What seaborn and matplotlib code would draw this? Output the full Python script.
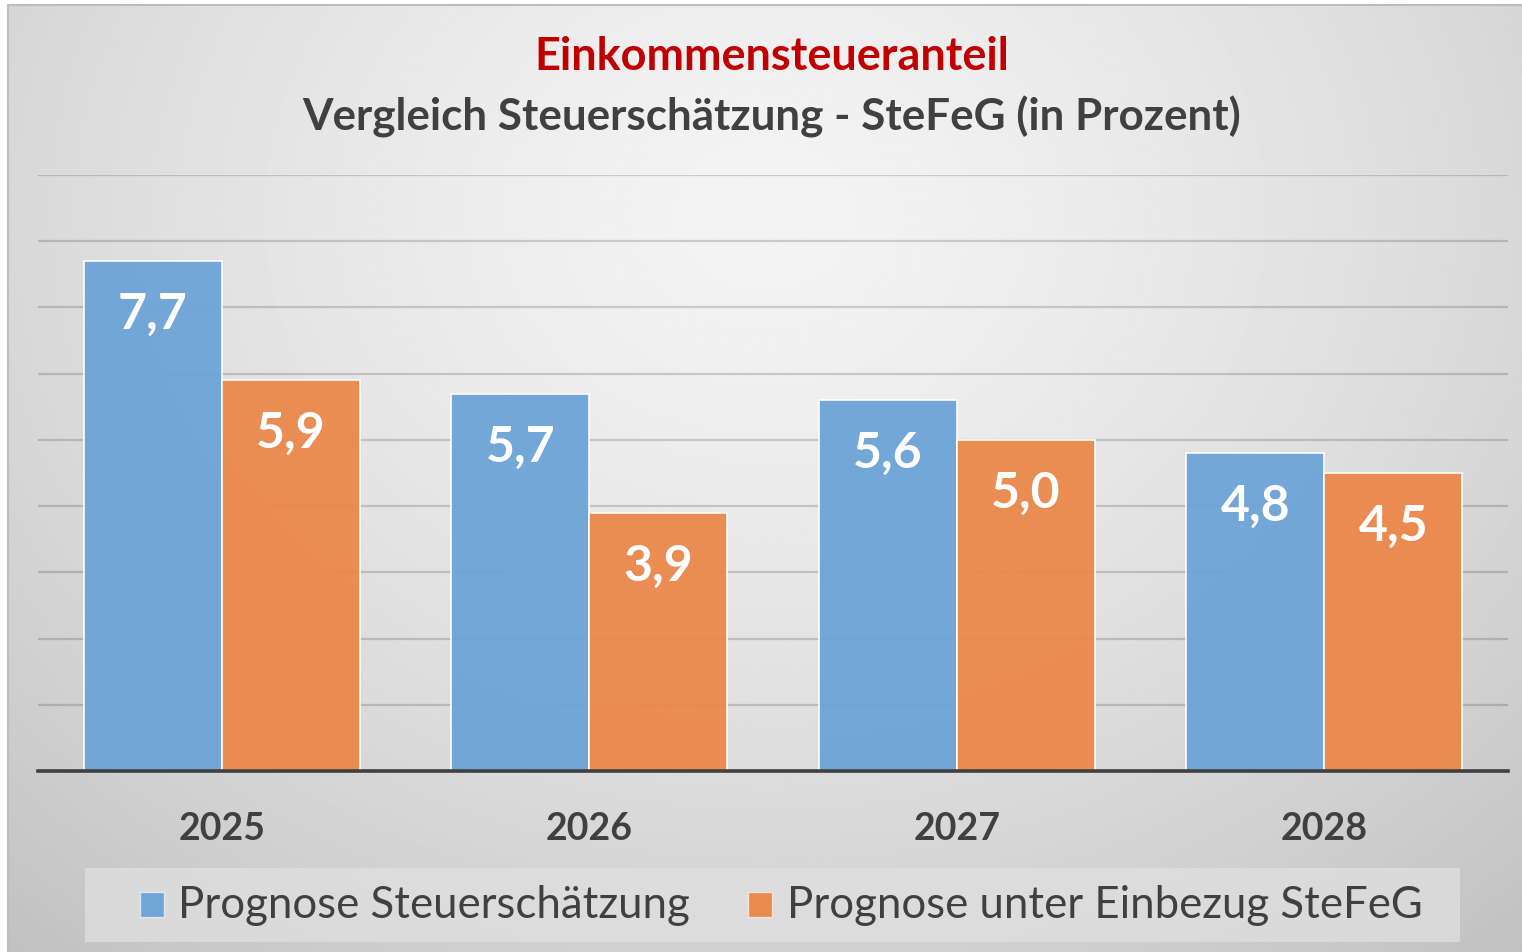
import numpy as np
import pandas as pd
import seaborn as sns
import matplotlib.pyplot as plt
from matplotlib.patches import Rectangle

# Chart data
years = ['2025', '2026', '2027', '2028']
series_names = ['Prognose Steuerschätzung', 'Prognose unter Einbezug SteFeG']
prognose = [7.7, 5.7, 5.6, 4.8]
stefeg = [5.9, 3.9, 5.0, 4.5]
colors = ['#6FA5D7', '#EB8A4D']

df = pd.DataFrame({
    'Jahr': years * 2,
    'Wert': prognose + stefeg,
    'Reihe': [series_names[0]] * 4 + [series_names[1]] * 4,
})

sns.set_style('white')
plt.rcParams['font.family'] = ['Lato', 'DejaVu Sans']

W, H = 1522, 953
fig = plt.figure(figsize=(W / 100, H / 100), dpi=100)
fig.patch.set_facecolor('white')

# Radial gradient background inside the frame
bg = fig.add_axes([8 / W, 0, 1 - 8 / W, 1 - 6 / H], zorder=0)
yy, xx = np.mgrid[0:1:400j, 0:1:600j]
r = np.sqrt(((xx - 0.5) / 0.75) ** 2 + ((yy - 0.22) / 1.0) ** 2)
shade = 0.955 - 0.19 * np.clip(r, 0, 1.2) ** 1.4
bg.imshow(shade, cmap='gray', vmin=0, vmax=1, aspect='auto', extent=[0, 1, 0, 1], origin='upper')
bg.set_xlim(0, 1)
bg.set_ylim(0, 1)
bg.axis('off')

# Frame border lines
fig.add_artist(plt.Line2D([8 / W, 8 / W], [0, 1 - 6 / H], color='#bdbdbd', lw=1.5, transform=fig.transFigure))
fig.add_artist(plt.Line2D([8 / W, 1], [1 - 6 / H, 1 - 6 / H], color='#bdbdbd', lw=1.5, transform=fig.transFigure))

ax = fig.add_axes([38 / W, 1 - 772 / H, (1508 - 38) / W, (772 - 176) / H], zorder=2)
ax.patch.set_alpha(0)

sns.barplot(data=df, x='Jahr', y='Wert', hue='Reihe', palette=colors, width=0.75, saturation=1,
            edgecolor=(1, 1, 1, 0.55), linewidth=1.2, alpha=0.97, ax=ax, legend=False, zorder=3)

ax.set_ylim(0, 9)
ax.set_xlim(-0.5, 3.5)
ax.set_yticks(range(0, 10))
ax.set_yticklabels([])
ax.tick_params(axis='y', length=0)
ax.yaxis.grid(True, color='black', lw=1.6)
ax.set_axisbelow(False)
for line in ax.get_ygridlines():
    line.set_zorder(4)
    line.set_alpha(0.16)
for s in ['top', 'right', 'left']:
    ax.spines[s].set_visible(False)
ax.spines['bottom'].set_color('#404040')
ax.spines['bottom'].set_linewidth(2.6)
ax.spines['bottom'].set_zorder(5)

ax.set_xlabel('')
ax.set_ylabel('')
ax.tick_params(axis='x', length=0, pad=29, labelsize=27, labelcolor='#404040')
for lbl in ax.get_xticklabels():
    lbl.set_fontweight('bold')

# Value labels inside the bars
for cont in ax.containers:
    labels = [f'{b.get_height():.1f}'.replace('.', ',') for b in cont]
    ax.bar_label(cont, labels=labels, label_type='edge', padding=-54, color='white',
                 fontsize=36, fontweight='bold', zorder=6)

# Titles
fig.text(772 / W, 1 - 57 / H, 'Einkommensteueranteil', ha='center', va='center',
         color='#C00000', fontsize=32.4, fontweight='bold')
fig.text(772 / W, 1 - 117 / H, 'Vergleich Steuerschätzung - SteFeG (in Prozent)', ha='center', va='center',
         color='#404040', fontsize=31.7, fontweight='bold')

# Legend box
fig.add_artist(Rectangle((85 / W, 1 - 943 / H), (1460 - 85) / W, (943 - 869) / H,
                         transform=fig.transFigure, facecolor='#e0e0e0', edgecolor='none', alpha=0.75, zorder=1))
entries = [(140, 178), (748, 787)]
for (sx, tx), name, col in zip(entries, series_names, colors):
    fig.add_artist(Rectangle((sx / W, 1 - 918 / H), 24 / W, 25 / H, transform=fig.transFigure,
                             facecolor=col, edgecolor=(1, 1, 1, 0.6), lw=1, zorder=3))
    fig.text(tx / W, 1 - 906 / H, name, ha='left', va='center', color='#404040', fontsize=31.5, zorder=3)

fig.savefig('out.png', dpi=100)
